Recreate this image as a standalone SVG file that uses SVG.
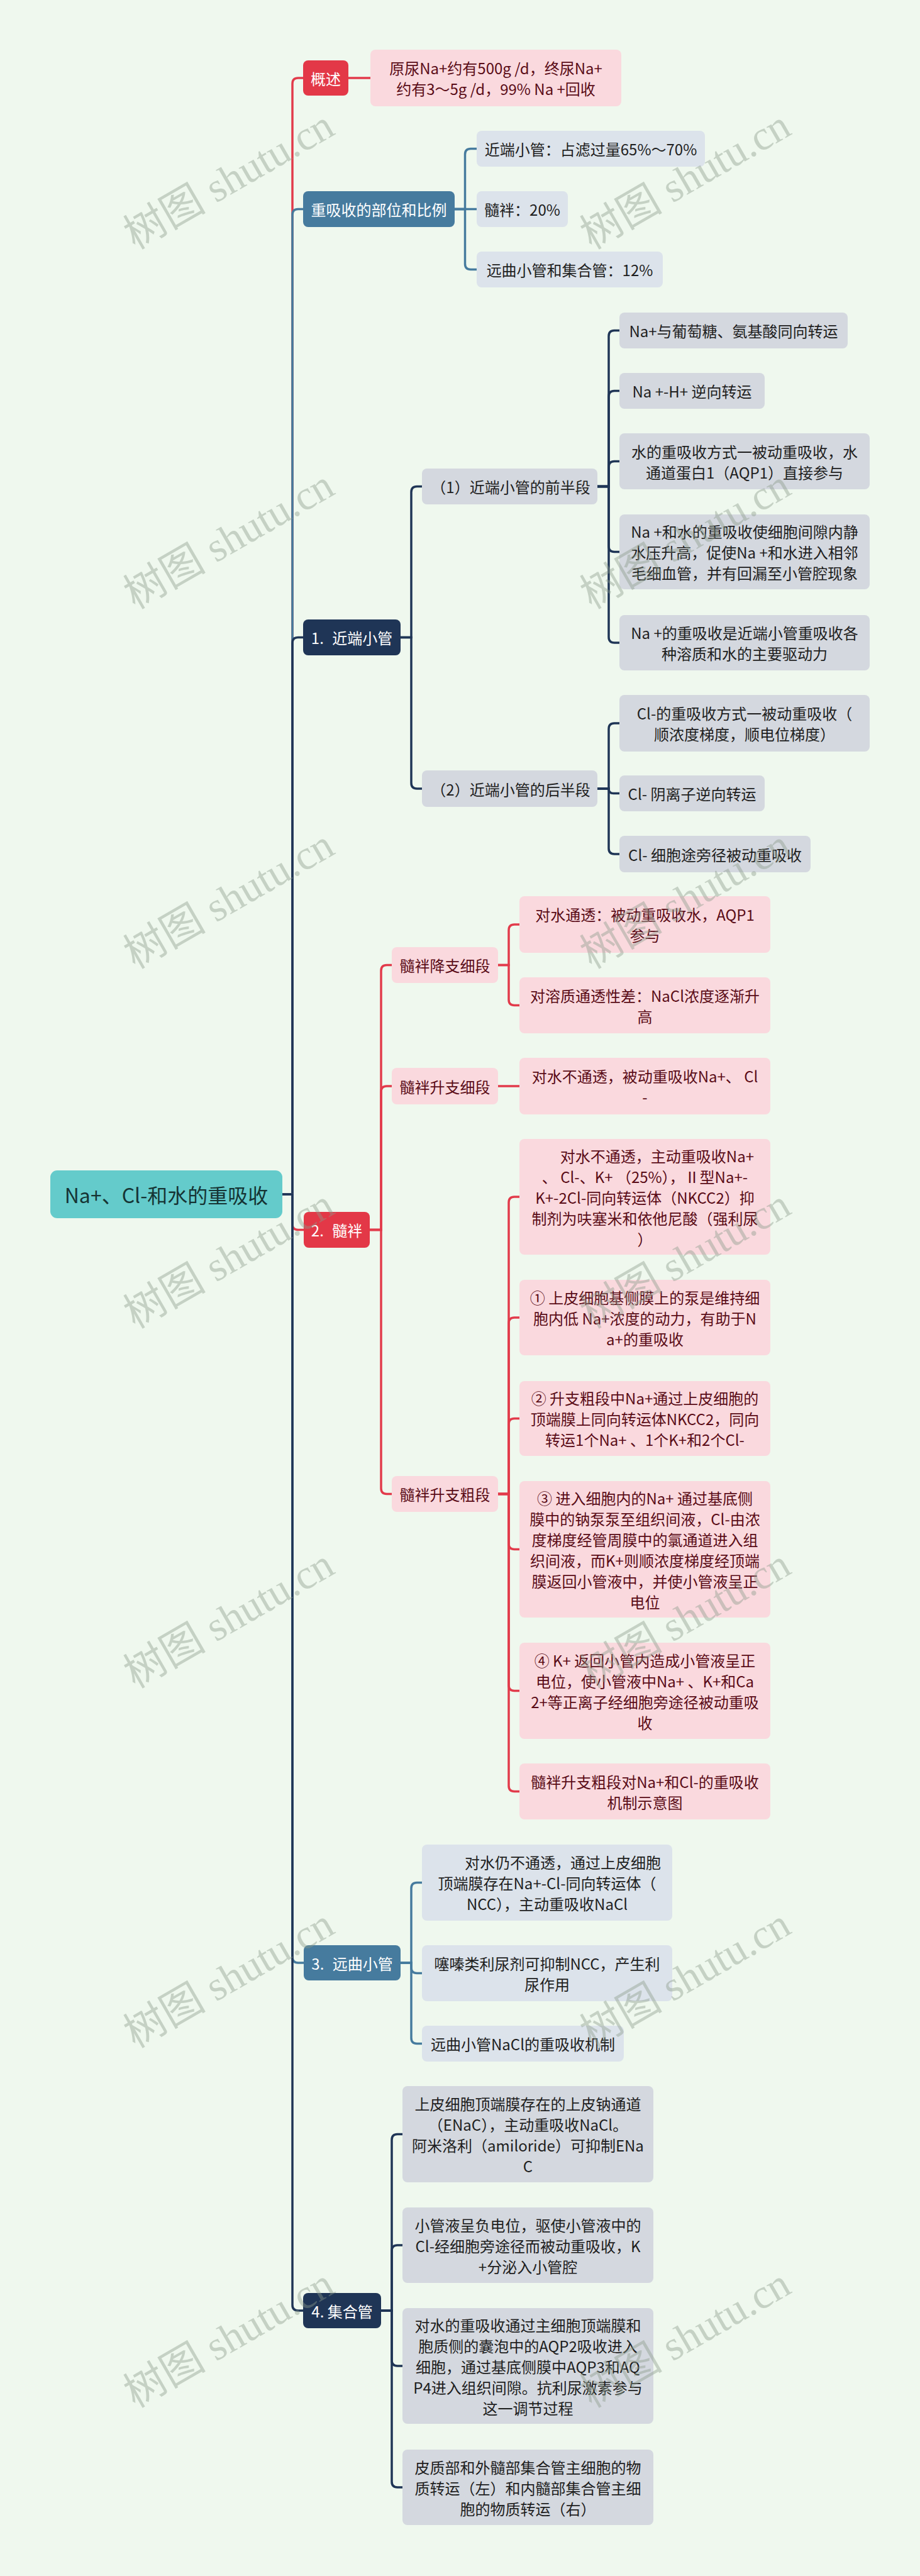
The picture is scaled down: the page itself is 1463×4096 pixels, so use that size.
<svg xmlns="http://www.w3.org/2000/svg" width="1463" height="4096" viewBox="0 0 1463 4096">
<defs>
<style>
.bg{fill:#EFF8EE}
text{font-family:"Noto Sans CJK SC","Noto Sans",sans-serif;font-size:24px;text-anchor:middle;dominant-baseline:central}
.root{fill:#64CBCB}
.red{fill:#E33847}
.blue{fill:#467B9E}
.navy{fill:#1F3556}
.pink{fill:#FAD9DE}
.lb{fill:#DCE3EB}
.gr{fill:#D4D8DF}
.tw{fill:#FFFFFF}
.tp{fill:#5A0C17}
.td{fill:#1E1E1E}
.tr{fill:#163434;font-size:32px}
.ws{word-spacing:8px}
.end{text-anchor:end}
.lr{fill:none;stroke:#E23B4B;stroke-width:3.5}
.lbl{fill:none;stroke:#467B9E;stroke-width:3.5}
.ln{fill:none;stroke:#1F3556;stroke-width:3.5}
.wm{font-family:"Liberation Serif","Noto Sans CJK SC",serif;font-size:66px;fill:#8A9A8A;fill-opacity:0.42;text-anchor:middle;dominant-baseline:alphabetic}
</style>
</defs>
<rect class="bg" x="0" y="0" width="1463" height="4096"/>

<g id="connectors">
<path class="lr" d="M449 1899 H465 V133 Q465 124 474 124 H482"/>
<path class="lbl" d="M449 1899 H465 V341.5 Q465 332.5 474 332.5 H482"/>
<path class="ln" d="M449 1899 H465 V1022.5 Q465 1013.5 474 1013.5 H482"/>
<path class="lr" d="M449 1899 H465 V1946.5 Q465 1955.5 474 1955.5 H483"/>
<path class="lbl" d="M449 1899 H465 V3112 Q465 3121 474 3121 H483"/>
<path class="ln" d="M449 1899 H465 V3665 Q465 3674 474 3674 H482"/>

<path class="lr" d="M554 124 H589"/>

<path class="lbl" d="M723 332.5 H739.5 V245.5 Q739.5 236.5 748.5 236.5 H758"/>
<path class="lbl" d="M723 332.5 H758"/>
<path class="lbl" d="M723 332.5 H739.5 V419.5 Q739.5 428.5 748.5 428.5 H758"/>

<path class="ln" d="M637 1013.5 H654 V782.5 Q654 773.5 663 773.5 H671"/>
<path class="ln" d="M637 1013.5 H654 V1245 Q654 1254 663 1254 H671"/>

<path class="ln" d="M950 773.5 H968 V534.5 Q968 525.5 977 525.5 H985"/>
<path class="ln" d="M950 773.5 H968 V630.5 Q968 621.5 977 621.5 H985"/>
<path class="ln" d="M950 773.5 H968 V742.5 Q968 733.5 977 733.5 H985"/>
<path class="ln" d="M950 773.5 H968 V868.5 Q968 877.5 977 877.5 H985"/>
<path class="ln" d="M950 773.5 H968 V1013 Q968 1022 977 1022 H985"/>

<path class="ln" d="M950 1254 H968 V1159 Q968 1150 977 1150 H985"/>
<path class="ln" d="M950 1254 H968 Q968 1261.5 975.5 1261.5 H985"/>
<path class="ln" d="M950 1254 H968 V1349 Q968 1358 977 1358 H985"/>

<path class="lr" d="M588 1955.5 H606 V1543.5 Q606 1534.5 615 1534.5 H623"/>
<path class="lr" d="M588 1955.5 H606 V1736 Q606 1727 615 1727 H623"/>
<path class="lr" d="M588 1955.5 H606 V2366.5 Q606 2375.5 615 2375.5 H623"/>

<path class="lr" d="M792 1534.5 H809 V1479 Q809 1470 818 1470 H826"/>
<path class="lr" d="M792 1534.5 H809 V1589.5 Q809 1598.5 818 1598.5 H826"/>

<path class="lr" d="M792 1727 H826"/>

<path class="lr" d="M792 2375.5 H809 V1912 Q809 1903 818 1903 H826"/>
<path class="lr" d="M792 2375.5 H809 V2104 Q809 2095 818 2095 H826"/>
<path class="lr" d="M792 2375.5 H809 V2264.5 Q809 2255.5 818 2255.5 H826"/>
<path class="lr" d="M792 2375.5 H809 V2454.5 Q809 2463.5 818 2463.5 H826"/>
<path class="lr" d="M792 2375.5 H809 V2679.5 Q809 2688.5 818 2688.5 H826"/>
<path class="lr" d="M792 2375.5 H809 V2839.5 Q809 2848.5 818 2848.5 H826"/>

<path class="lbl" d="M637 3121 H654 V3002.5 Q654 2993.5 663 2993.5 H671"/>
<path class="lbl" d="M637 3121 H654 V3128.5 Q654 3137.5 663 3137.5 H671"/>
<path class="lbl" d="M637 3121 H654 V3240.5 Q654 3249.5 663 3249.5 H671"/>

<path class="ln" d="M606 3674 H623 V3402.5 Q623 3393.5 632 3393.5 H640"/>
<path class="ln" d="M606 3674 H623 V3579 Q623 3570 632 3570 H640"/>
<path class="ln" d="M606 3674 H623 V3753 Q623 3762 632 3762 H640"/>
<path class="ln" d="M606 3674 H623 V3946 Q623 3955 632 3955 H640"/>
</g>

<g id="root"><rect class="root" x="80" y="1861" width="369" height="76" rx="11"/><text class="tr" x="264.5" y="1899">Na+、Cl-和水的重吸收</text></g>

<g id="n-gaishu"><rect class="red" x="482" y="96" width="72" height="56" rx="8"/><text class="tw" x="518" y="124">概述</text></g>
<g id="n-gaishu-1"><rect class="pink" x="589" y="79" width="399" height="90" rx="8"/><text class="tp" x="788.5" y="107.5">原尿Na+约有500g /d，终尿Na+</text><text class="tp" x="788.5" y="140.5">约有3～5g /d，99% Na +回收</text></g>

<g id="n-bili"><rect class="blue" x="482" y="304" width="241" height="57" rx="8"/><text class="tw" x="602.5" y="332.5">重吸收的部位和比例</text></g>
<g id="n-bili-1"><rect class="lb" x="758" y="208" width="363" height="57" rx="8"/><text class="td" x="939.5" y="236.5">近端小管：占滤过量65%～70%</text></g>
<g id="n-bili-2"><rect class="lb" x="758" y="304" width="145" height="57" rx="8"/><text class="td" x="830.5" y="332.5">髓袢：20%</text></g>
<g id="n-bili-3"><rect class="lb" x="758" y="400" width="296" height="57" rx="8"/><text class="td" x="906" y="428.5">远曲小管和集合管：12%</text></g>

<g id="n-jinduan"><rect class="navy" x="482" y="985" width="155" height="57" rx="8"/><text class="tw ws" x="559.5" y="1013.5">1. 近端小管</text></g>
<g id="n-qian"><rect class="gr" x="671" y="745" width="279" height="57" rx="8"/><text class="td" x="812" y="773.5">（1）近端小管的前半段</text></g>
<g id="n-qian-1"><rect class="gr" x="985" y="497" width="363" height="57" rx="8"/><text class="td" x="1166.5" y="525.5">Na+与葡萄糖、氨基酸同向转运</text></g>
<g id="n-qian-2"><rect class="gr" x="985" y="593" width="231" height="57" rx="8"/><text class="td" x="1100.5" y="621.5">Na +-H+ 逆向转运</text></g>
<g id="n-qian-3"><rect class="gr" x="985" y="689" width="398" height="89" rx="8"/><text class="td" x="1184" y="717">水的重吸收方式一被动重吸收，水</text><text class="td" x="1184" y="750">通道蛋白1（AQP1）直接参与</text></g>
<g id="n-qian-4"><rect class="gr" x="985" y="818" width="398" height="119" rx="8"/><text class="td" x="1184" y="844.5">Na +和水的重吸收使细胞间隙内静</text><text class="td" x="1184" y="877.5">水压升高，促使Na +和水进入相邻</text><text class="td" x="1184" y="910.5">毛细血管，并有回漏至小管腔现象</text></g>
<g id="n-qian-5"><rect class="gr" x="985" y="978" width="398" height="88" rx="8"/><text class="td" x="1184" y="1005.5">Na +的重吸收是近端小管重吸收各</text><text class="td" x="1184" y="1038.5">种溶质和水的主要驱动力</text></g>
<g id="n-hou"><rect class="gr" x="671" y="1225" width="279" height="58" rx="8"/><text class="td" x="812" y="1254">（2）近端小管的后半段</text></g>
<g id="n-hou-1"><rect class="gr" x="985" y="1105" width="398" height="90" rx="8"/><text class="td" x="1184" y="1133.5">Cl-的重吸收方式一被动重吸收（</text><text class="td" x="1184" y="1166.5">顺浓度梯度，顺电位梯度）</text></g>
<g id="n-hou-2"><rect class="gr" x="985" y="1233" width="231" height="57" rx="8"/><text class="td" x="1100.5" y="1261.5">Cl- 阴离子逆向转运</text></g>
<g id="n-hou-3"><rect class="gr" x="985" y="1329" width="304" height="58" rx="8"/><text class="td" x="1137" y="1358">Cl- 细胞途旁径被动重吸收</text></g>

<g id="n-suipan"><rect class="red" x="483" y="1927" width="105" height="57" rx="8"/><text class="tw ws" x="535.5" y="1955.5">2. 髓袢</text></g>
<g id="n-jiang"><rect class="pink" x="623" y="1506" width="169" height="57" rx="8"/><text class="tp" x="707.5" y="1534.5">髓袢降支细段</text></g>
<g id="n-jiang-1"><rect class="pink" x="826" y="1425" width="399" height="90" rx="8"/><text class="tp" x="1025.5" y="1453.5">对水通透：被动重吸收水，AQP1</text><text class="tp" x="1025.5" y="1486.5">参与</text></g>
<g id="n-jiang-2"><rect class="pink" x="826" y="1554" width="399" height="89" rx="8"/><text class="tp" x="1025.5" y="1582">对溶质通透性差：NaCl浓度逐渐升</text><text class="tp" x="1025.5" y="1615">高</text></g>
<g id="n-xi"><rect class="pink" x="623" y="1698" width="169" height="58" rx="8"/><text class="tp" x="707.5" y="1727">髓袢升支细段</text></g>
<g id="n-xi-1"><rect class="pink" x="826" y="1682" width="399" height="90" rx="8"/><text class="tp" x="1025.5" y="1710.5">对水不通透，被动重吸收Na+、 Cl</text><text class="tp" x="1025.5" y="1743.5">-</text></g>
<g id="n-cu"><rect class="pink" x="623" y="2347" width="169" height="57" rx="8"/><text class="tp" x="707.5" y="2375.5">髓袢升支粗段</text></g>
<g id="n-cu-1"><rect class="pink" x="826" y="1811" width="399" height="184" rx="8"/><text class="tp end" x="1199" y="1837">对水不通透，主动重吸收Na+</text><text class="tp" x="1025.5" y="1870">、 Cl-、K+ （25%），Ⅱ型Na+-</text><text class="tp" x="1025.5" y="1903">K+-2Cl-同向转运体（NKCC2）抑</text><text class="tp" x="1025.5" y="1936">制剂为呋塞米和依他尼酸（强利尿</text><text class="tp" x="1025.5" y="1969">）</text></g>
<g id="n-cu-2"><rect class="pink" x="826" y="2035" width="399" height="120" rx="8"/><text class="tp" x="1025.5" y="2062">① 上皮细胞基侧膜上的泵是维持细</text><text class="tp" x="1025.5" y="2095">胞内低 Na+浓度的动力，有助于N</text><text class="tp" x="1025.5" y="2128">a+的重吸收</text></g>
<g id="n-cu-3"><rect class="pink" x="826" y="2196" width="399" height="119" rx="8"/><text class="tp" x="1025.5" y="2222.5">② 升支粗段中Na+通过上皮细胞的</text><text class="tp" x="1025.5" y="2255.5">顶端膜上同向转运体NKCC2，同向</text><text class="tp" x="1025.5" y="2288.5">转运1个Na+ 、1个K+和2个Cl-</text></g>
<g id="n-cu-4"><rect class="pink" x="826" y="2355" width="399" height="217" rx="8"/><text class="tp" x="1025.5" y="2381">③ 进入细胞内的Na+ 通过基底侧</text><text class="tp" x="1025.5" y="2414">膜中的钠泵泵至组织间液，Cl-由浓</text><text class="tp" x="1025.5" y="2447">度梯度经管周膜中的氯通道进入组</text><text class="tp" x="1025.5" y="2480">织间液，而K+则顺浓度梯度经顶端</text><text class="tp" x="1025.5" y="2513">膜返回小管液中，并使小管液呈正</text><text class="tp" x="1025.5" y="2546">电位</text></g>
<g id="n-cu-5"><rect class="pink" x="826" y="2612" width="399" height="153" rx="8"/><text class="tp" x="1025.5" y="2639">④ K+ 返回小管内造成小管液呈正</text><text class="tp" x="1025.5" y="2672">电位，使小管液中Na+ 、K+和Ca</text><text class="tp" x="1025.5" y="2705">2+等正离子经细胞旁途径被动重吸</text><text class="tp" x="1025.5" y="2738">收</text></g>
<g id="n-cu-6"><rect class="pink" x="826" y="2804" width="399" height="89" rx="8"/><text class="tp" x="1025.5" y="2832">髓袢升支粗段对Na+和Cl-的重吸收</text><text class="tp" x="1025.5" y="2865">机制示意图</text></g>

<g id="n-yuanqu"><rect class="blue" x="483" y="3093" width="154" height="56" rx="8"/><text class="tw ws" x="560" y="3121">3. 远曲小管</text></g>
<g id="n-yuanqu-1"><rect class="lb" x="671" y="2933" width="398" height="121" rx="8"/><text class="td end" x="1051" y="2960.5">对水仍不通透，通过上皮细胞</text><text class="td" x="870" y="2993.5">顶端膜存在Na+-Cl-同向转运体（</text><text class="td" x="870" y="3026.5">NCC），主动重吸收NaCl</text></g>
<g id="n-yuanqu-2"><rect class="lb" x="671" y="3093" width="398" height="89" rx="8"/><text class="td" x="870" y="3121">噻嗪类利尿剂可抑制NCC，产生利</text><text class="td" x="870" y="3154">尿作用</text></g>
<g id="n-yuanqu-3"><rect class="lb" x="671" y="3221" width="321" height="57" rx="8"/><text class="td" x="831.5" y="3249.5">远曲小管NaCl的重吸收机制</text></g>

<g id="n-jihe"><rect class="navy" x="482" y="3646" width="124" height="56" rx="8"/><text class="tw" x="544" y="3674">4. 集合管</text></g>
<g id="n-jihe-1"><rect class="gr" x="640" y="3317" width="399" height="153" rx="8"/><text class="td" x="839.5" y="3344">上皮细胞顶端膜存在的上皮钠通道</text><text class="td" x="839.5" y="3377">（ENaC），主动重吸收NaCl。</text><text class="td" x="839.5" y="3410">阿米洛利（amiloride）可抑制ENa</text><text class="td" x="839.5" y="3443">C</text></g>
<g id="n-jihe-2"><rect class="gr" x="640" y="3510" width="399" height="120" rx="8"/><text class="td" x="839.5" y="3537">小管液呈负电位，驱使小管液中的</text><text class="td" x="839.5" y="3570">Cl-经细胞旁途径而被动重吸收，K</text><text class="td" x="839.5" y="3603">+分泌入小管腔</text></g>
<g id="n-jihe-3"><rect class="gr" x="640" y="3670" width="399" height="184" rx="8"/><text class="td" x="839.5" y="3696">对水的重吸收通过主细胞顶端膜和</text><text class="td" x="839.5" y="3729">胞质侧的囊泡中的AQP2吸收进入</text><text class="td" x="839.5" y="3762">细胞，通过基底侧膜中AQP3和AQ</text><text class="td" x="839.5" y="3795">P4进入组织间隙。抗利尿激素参与</text><text class="td" x="839.5" y="3828">这一调节过程</text></g>
<g id="n-jihe-4"><rect class="gr" x="640" y="3895" width="399" height="120" rx="8"/><text class="td" x="839.5" y="3922">皮质部和外髓部集合管主细胞的物</text><text class="td" x="839.5" y="3955">质转运（左）和内髓部集合管主细</text><text class="td" x="839.5" y="3988">胞的物质转运（右）</text></g>

<g id="watermarks">
<text class="wm" transform="translate(375 305) rotate(-30)">树图 shutu.cn</text>
<text class="wm" transform="translate(1101 305) rotate(-30)">树图 shutu.cn</text>
<text class="wm" transform="translate(375 877) rotate(-30)">树图 shutu.cn</text>
<text class="wm" transform="translate(1101 877) rotate(-30)">树图 shutu.cn</text>
<text class="wm" transform="translate(375 1449) rotate(-30)">树图 shutu.cn</text>
<text class="wm" transform="translate(1101 1449) rotate(-30)">树图 shutu.cn</text>
<text class="wm" transform="translate(375 2021) rotate(-30)">树图 shutu.cn</text>
<text class="wm" transform="translate(1101 2021) rotate(-30)">树图 shutu.cn</text>
<text class="wm" transform="translate(375 2593) rotate(-30)">树图 shutu.cn</text>
<text class="wm" transform="translate(1101 2593) rotate(-30)">树图 shutu.cn</text>
<text class="wm" transform="translate(375 3165) rotate(-30)">树图 shutu.cn</text>
<text class="wm" transform="translate(1101 3165) rotate(-30)">树图 shutu.cn</text>
<text class="wm" transform="translate(375 3737) rotate(-30)">树图 shutu.cn</text>
<text class="wm" transform="translate(1101 3737) rotate(-30)">树图 shutu.cn</text>
</g>
</svg>
